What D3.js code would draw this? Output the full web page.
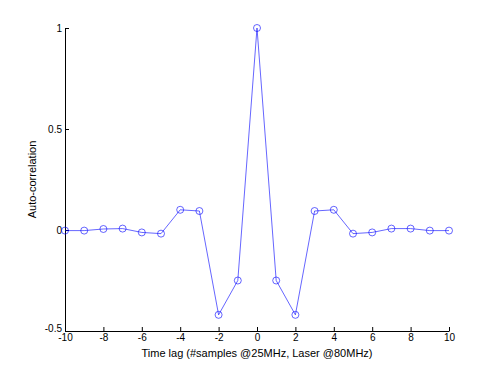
<!DOCTYPE html>
<html>
<head>
<meta charset="utf-8">
<script src="https://cdn.jsdelivr.net/npm/d3@7"></script>
<style>
  body { margin: 0; background: #fff; }
  svg text { font-family: "Liberation Sans", Arial, sans-serif; }
</style>
</head>
<body>
<svg id="chart"></svg>
<script>
// Auto-correlation vs time lag
const lags = [-10, -9, -8, -7, -6, -5, -4, -3, -2, -1, 0, 1, 2, 3, 4, 5, 6, 7, 8, 9, 10];
const corr = [-0.003, -0.003, 0.005, 0.007, -0.012, -0.018, 0.10, 0.094, -0.42, -0.25, 1,
              -0.25, -0.42, 0.094, 0.10, -0.018, -0.012, 0.007, 0.007, -0.003, -0.003];
const xTicks = [-10, -8, -6, -4, -2, 0, 2, 4, 6, 8, 10];
const yTicks = [-0.5, 0, 0.5, 1];

const width = 496, height = 372;
const margin = { top: 28, right: 47, bottom: 41, left: 65 };
const w = width - margin.left - margin.right;
const h = height - margin.top - margin.bottom;

const svg = d3.select("#chart")
    .attr("width", width)
    .attr("height", height);

const g = svg.append("g")
    .attr("transform", `translate(${margin.left},${margin.top})`);

const x = d3.scaleLinear().domain([-10, 10]).range([0, w]);
const y = d3.scaleLinear().domain([-0.5, 1]).range([h, 0]);

// axes, ticks pointing inward like matlab, plain hyphen for minus
const xAxis = g.append("g")
    .attr("transform", `translate(0,${h})`)
    .call(d3.axisBottom(x).tickValues(xTicks).tickSize(-4).tickPadding(5).tickSizeOuter(0)
        .tickFormat(d => String(d)));
const yAxis = g.append("g")
    .call(d3.axisLeft(y).tickValues(yTicks).tickSize(-4).tickPadding(3).tickSizeOuter(0)
        .tickFormat(d => String(d)));

[xAxis, yAxis].forEach(a => {
    a.select(".domain").attr("stroke", "#000").attr("stroke-width", 1);
    a.selectAll(".tick line").attr("stroke", "#000");
    a.selectAll("text").attr("font-size", 10).attr("fill", "#000")
        .attr("font-family", "Liberation Sans, Arial, sans-serif");
});
xAxis.selectAll("text").attr("dy", "0.5em");
// matlab lifts the bottom y label a little
yAxis.selectAll(".tick text").filter(d => d === -0.5).attr("dy", "0.05em");

// line + circle markers
const line = d3.line()
    .x((d, i) => x(lags[i]))
    .y(d => y(d));

g.append("path")
    .datum(corr)
    .attr("fill", "none")
    .attr("stroke", "#0000ff")
    .attr("stroke-opacity", 0.6)
    .attr("stroke-width", 1)
    .attr("d", line);

g.selectAll("circle")
    .data(corr)
    .enter()
    .append("circle")
    .attr("cx", (d, i) => x(lags[i]))
    .attr("cy", d => y(d))
    .attr("r", 3.5)
    .attr("fill", "none")
    .attr("stroke", "#0000ff")
    .attr("stroke-opacity", 0.6)
    .attr("stroke-width", 1);

// labels
svg.append("text")
    .attr("x", margin.left + w / 2)
    .attr("y", 357)
    .attr("text-anchor", "middle")
    .attr("font-size", 11)
    .text("Time lag (#samples @25MHz, Laser @80MHz)");

svg.append("text")
    .attr("transform", `translate(36,${margin.top + y(0.25)}) rotate(-90)`)
    .attr("text-anchor", "middle")
    .attr("font-size", 11)
    .text("Auto-correlation");
</script>
</body>
</html>
